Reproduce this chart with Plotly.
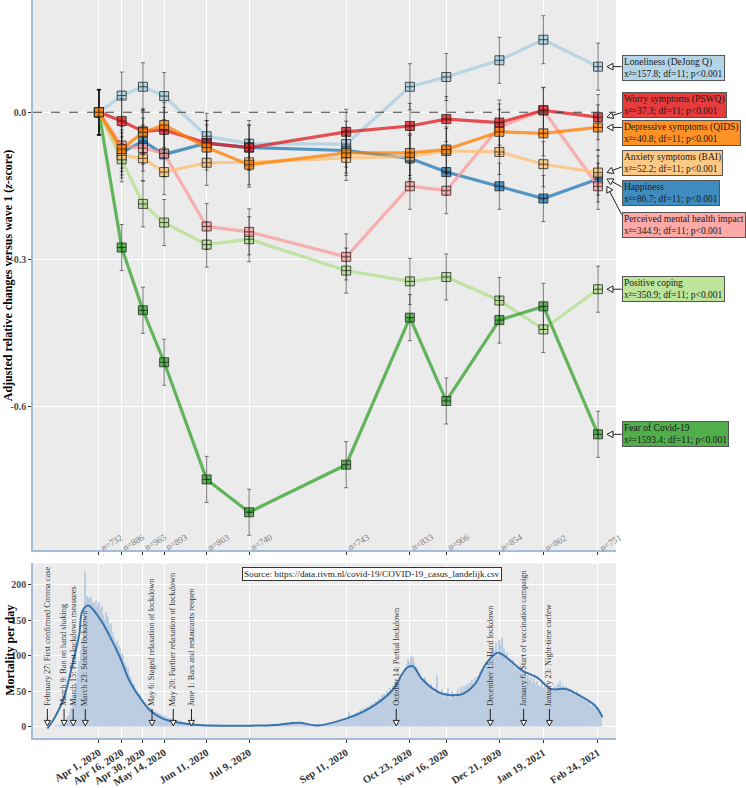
import math
import pandas as pd
import plotly.graph_objects as go

W, H = 746, 788
FONT = "Liberation Serif"

# ---------------- data: top panel ----------------
wave_dates = ['2020-04-01', '2020-04-16', '2020-04-30', '2020-05-14', '2020-06-11', '2020-07-09',
              '2020-09-11', '2020-10-23', '2020-11-16', '2020-12-21', '2021-01-19', '2021-02-24']
wave_tick_labels = ['Apr 1, 2020', 'Apr 16, 2020', 'Apr 30, 2020', 'May 14, 2020', 'Jun 11, 2020',
                    'Jul 9, 2020', 'Sep 11, 2020', 'Oct 23, 2020', 'Nov 16, 2020', 'Dec 21, 2020',
                    'Jan 19, 2021', 'Feb 24, 2021']
wave_n = ['n=732', 'n=886', 'n=965', 'n=893', 'n=803', 'n=740', 'n=743', 'n=833', 'n=906', 'n=854', 'n=802', 'n=751']

loneliness = [0, 0.034, 0.052, 0.033, -0.049, -0.064, -0.065, 0.052, 0.072, 0.106, 0.148, 0.093]
happiness = [0, -0.082, -0.059, -0.086, -0.063, -0.072, -0.078, -0.094, -0.122, -0.151, -0.176, -0.136]
positive_coping = [0, -0.096, -0.187, -0.225, -0.270, -0.259, -0.323, -0.345, -0.336, -0.384, -0.443, -0.361]
fear_covid = [0, -0.276, -0.404, -0.510, -0.749, -0.816, -0.719, -0.419, -0.589, -0.424, -0.396, -0.657]
perceived_impact = [0, -0.068, -0.073, -0.084, -0.233, -0.244, -0.295, -0.151, -0.160, -0.030, 0.004, -0.151]
worry = [0, -0.018, -0.039, -0.036, -0.063, -0.072, -0.040, -0.028, -0.014, -0.021, 0.004, -0.010]
anxiety = [0, -0.088, -0.094, -0.122, -0.103, -0.102, -0.093, -0.090, -0.079, -0.081, -0.106, -0.123]
depressive = [0, -0.075, -0.041, -0.026, -0.072, -0.107, -0.083, -0.083, -0.076, -0.040, -0.043, -0.031]

err_loneliness = [0.047, 0.048, 0.049, 0.048, 0.047, 0.047, 0.047, 0.047, 0.048, 0.047, 0.049, 0.048]
err_happiness = [0.046, 0.046, 0.047, 0.046, 0.046, 0.046, 0.046, 0.047, 0.047, 0.047, 0.047, 0.047]
err_positive_coping = [0.046, 0.046, 0.047, 0.047, 0.046, 0.046, 0.046, 0.047, 0.047, 0.047, 0.047, 0.047]
err_fear_covid = [0.046, 0.047, 0.047, 0.047, 0.047, 0.047, 0.047, 0.047, 0.047, 0.047, 0.047, 0.047]
err_perceived_impact = [0.046, 0.046, 0.047, 0.047, 0.047, 0.047, 0.047, 0.047, 0.047, 0.047, 0.047, 0.047]
err_worry = [0.046, 0.046, 0.046, 0.046, 0.046, 0.046, 0.046, 0.046, 0.046, 0.046, 0.046, 0.046]
err_anxiety = [0.046, 0.046, 0.046, 0.046, 0.046, 0.046, 0.046, 0.046, 0.046, 0.046, 0.046, 0.046]
err_depressive = [0.046, 0.046, 0.046, 0.046, 0.046, 0.046, 0.046, 0.046, 0.046, 0.046, 0.046, 0.046]

series_names = ['Loneliness (DeJong Q)', 'Happiness', 'Positive coping', 'Fear of Covid-19',
                'Perceived mental health impact', 'Worry symptoms (PSWQ)', 'Anxiety symptoms (BAI)',
                'Depressive symptoms (QIDS)']
series_values = [loneliness, happiness, positive_coping, fear_covid, perceived_impact, worry, anxiety, depressive]
series_errors = [err_loneliness, err_happiness, err_positive_coping, err_fear_covid, err_perceived_impact,
                 err_worry, err_anxiety, err_depressive]
series_colors = ['#a6cee3', '#1f78b4', '#b2df8a', '#33a02c', '#fb9a99', '#e31a1c', '#fdbf6f', '#ff7f00']
series_chi2 = ['157.8', '86.7', '350.9', '1593.4', '344.9', '37.3', '52.2', '40.8']

# label box layout (pixel centres) and arrow attach points (None = horizontal)
label_box_y = [68, 194.7, 290.8, 437.2, 226.8, 106, 164.5, 134]
label_attach_y = [None, 188, None, None, 216, 113.3, 168, None]

# ---------------- data: bottom panel ----------------
deaths_start = '2020-03-01'
deaths_mar = [0, 0, 0, 1, 1, 2, 3, 4, 6, 8, 11, 15, 20, 26, 40, 50, 62, 76, 92, 108, 125, 150, 219, 184, 182,
              181, 183, 176, 174, 178, 170]
deaths_apr = [176, 166, 170, 158, 150, 162, 155, 143, 146, 134, 126, 118, 121, 114, 110, 103, 99, 90, 86, 83,
              74, 70, 62, 60, 51, 49, 44, 45, 39, 36]
deaths_may = [34, 30, 28, 26, 27, 24, 23, 21, 20, 18, 19, 17, 16, 15, 14, 12, 12, 11, 11, 10, 9, 9, 8, 7, 8, 6,
              6, 5, 5, 5, 4]
deaths_jun = [4, 4, 3, 3, 3, 3, 2, 3, 2, 2, 2, 2, 2, 1, 2, 1, 1, 2, 1, 1, 1, 1, 1, 1, 1, 1, 1, 1, 1, 1]
deaths_jul = [1, 1, 1, 0, 1, 1, 1, 1, 0, 1, 1, 1, 1, 0, 1, 1, 1, 1, 1, 1, 1, 1, 1, 1, 2, 1, 2, 2, 2, 3, 3]
deaths_aug = [3, 4, 5, 6, 6, 7, 7, 6, 6, 5, 5, 5, 4, 4, 4, 3, 3, 3, 2, 2, 2, 2, 2, 2, 2, 2, 3, 3, 3, 3, 4]
deaths_sep = [4, 3, 5, 4, 6, 5, 7, 6, 8, 9, 10, 12, 20, 11, 14, 17, 18, 20, 16, 22, 24, 22, 26, 25, 28, 24, 30,
              32, 30, 34]
deaths_oct = [36, 35, 40, 38, 44, 46, 42, 50, 48, 55, 52, 58, 62, 60, 66, 70, 74, 68, 78, 82, 88, 96, 92, 99, 98,
              90, 84, 82, 76, 72, 68]
deaths_nov = [64, 70, 62, 58, 55, 60, 52, 48, 56, 72, 50, 46, 52, 44, 40, 48, 55, 42, 38, 50, 45, 40, 48, 52, 44,
              56, 50, 58, 55, 60]
deaths_dec = [58, 62, 66, 60, 70, 64, 72, 78, 74, 82, 80, 88, 84, 92, 98, 105, 112, 108, 118, 100, 122, 115, 125,
              110, 98, 104, 92, 96, 88, 94, 84]
deaths_jan = [80, 86, 78, 82, 74, 70, 76, 68, 72, 66, 70, 62, 68, 60, 64, 58, 56, 62, 54, 58, 52, 50, 56, 48, 54,
              50, 58, 52, 60, 64, 56]
deaths_feb = [58, 52, 56, 50, 54, 46, 52, 48, 44, 50, 42, 46, 40, 38, 42, 36, 34, 38, 30, 28, 32, 26, 24, 22, 20, 16]

smooth_dates = ['2020-02-27', '2020-03-03', '2020-03-09', '2020-03-14', '2020-03-19', '2020-03-21', '2020-03-25',
                '2020-04-02', '2020-04-08', '2020-04-15', '2020-04-21', '2020-04-28', '2020-05-05', '2020-05-13',
                '2020-05-24', '2020-06-08', '2020-07-09', '2020-07-26', '2020-08-11', '2020-08-23', '2020-09-11',
                '2020-09-26', '2020-10-11', '2020-10-21', '2020-10-25', '2020-10-31', '2020-11-11', '2020-11-19',
                '2020-11-27', '2020-12-05', '2020-12-12', '2020-12-20', '2021-01-05', '2021-01-15', '2021-01-24',
                '2021-02-03', '2021-02-08', '2021-02-22', '2021-02-27']
smooth_values = [-3, 13, 41, 83, 130, 163, 171, 151, 128, 97, 65, 41, 22, 11, 5, 1.5, 1, 2, 5, 1.4, 11, 25, 50, 83,
                 85, 67, 48, 44, 46, 60, 88, 104, 79, 69, 53, 53, 48, 29.5, 13]

event_dates = ['2020-02-27', '2020-03-09', '2020-03-15', '2020-03-23', '2020-05-06', '2020-05-20', '2020-06-01',
               '2020-10-14', '2020-12-15', '2021-01-06', '2021-01-23']
event_labels = ['February 27: First confirmed Corona case', 'March 9: Ban on hand shaking',
                'March 15: First lockdown measures', 'March 23: Stricter lockdown',
                'May 6: Staged relaxation of lockdown', 'May 20: Further relaxation of lockdown',
                'June 1: Bars and restaurants reopen', 'October 14: Partial lockdown',
                'December 15: Hard lockdown', 'January 6: Start of vaccination campaign',
                'January 23: Night-time curfew']
source_text = 'Source: https://data.rivm.nl/covid-19/COVID-19_casus_landelijk.csv'

# ---------------- geometry ----------------
PX_L, PX_R = 33, 616
TOP_T, TOP_B = 0, 554
BOT_T, BOT_B = 567, 742.7
XR = ['2020-02-17 12:30', '2021-03-07 21:00']
Y1R = [-0.894, 0.229]
Y2R = [-16.4, 230.5]
T0, T1 = pd.Timestamp(XR[0]), pd.Timestamp(XR[1])


def xpx(d):
    return PX_L + (pd.Timestamp(d) - T0) / (T1 - T0) * (PX_R - PX_L)


def y1px(v):
    return TOP_T + (Y1R[1] - v) / (Y1R[1] - Y1R[0]) * (TOP_B - TOP_T)


def xp(px):
    return px / W


def yp(py):
    return 1 - py / H


def rgba(hexc, a):
    h = hexc.lstrip('#')
    return 'rgba(%d,%d,%d,%.2f)' % (int(h[0:2], 16), int(h[2:4], 16), int(h[4:6], 16), a)


fig = go.Figure()

# ---------------- top panel traces ----------------
for name, vals, errs, col in zip(series_names, series_values, series_errors, series_colors):
    fig.add_trace(go.Scatter(
        x=wave_dates, y=vals, mode='lines+markers', name=name, showlegend=False,
        line=dict(color=rgba(col, 0.75), width=3.2),
        marker=dict(symbol='square-cross', size=9, color=rgba(col, 0.75),
                    line=dict(color='rgba(30,30,30,0.75)', width=1)),
        error_y=dict(type='data', array=errs, color='rgba(20,20,20,0.55)', thickness=1, width=2),
        xaxis='x', yaxis='y', cliponaxis=False))

# ---------------- bottom panel traces ----------------
deaths = (deaths_mar + deaths_apr + deaths_may + deaths_jun + deaths_jul + deaths_aug + deaths_sep +
          deaths_oct + deaths_nov + deaths_dec + deaths_jan + deaths_feb)
death_dates = pd.date_range(deaths_start, periods=len(deaths), freq='D')
fig.add_trace(go.Bar(x=death_dates, y=deaths, marker=dict(color='#bccde1', line=dict(width=0)),
                     showlegend=False, xaxis='x2', yaxis='y2'))
fig.add_trace(go.Scatter(x=smooth_dates, y=smooth_values, mode='lines', showlegend=False,
                         line=dict(color='#3a74ad', width=2, shape='spline', smoothing=0.9),
                         xaxis='x2', yaxis='y2'))

shapes = []
annotations = []

# zero dashed line
shapes.append(dict(type='line', xref='paper', yref='y', x0=xp(PX_L), x1=xp(PX_R), y0=0, y1=0,
                   line=dict(color='#444444', width=1, dash='dash'), layer='above'))


def arrow(tip, tail, length=6, half=3.3, color='#222222'):
    tx, ty = tip
    ax, ay = tail
    dx, dy = ax - tx, ay - ty
    n = math.hypot(dx, dy)
    ux, uy = dx / n, dy / n
    bx, by = tx + length * ux, ty + length * uy
    px_, py_ = -uy, ux
    c1 = (bx + half * px_, by + half * py_)
    c2 = (bx - half * px_, by - half * py_)
    tri = 'M %.5f %.5f L %.5f %.5f L %.5f %.5f Z' % (xp(tx), yp(ty), xp(c1[0]), yp(c1[1]), xp(c2[0]), yp(c2[1]))
    shapes.append(dict(type='path', xref='paper', yref='paper', path=tri, fillcolor='white',
                       line=dict(color=color, width=1), layer='above'))
    shapes.append(dict(type='line', xref='paper', yref='paper', x0=xp(bx), y0=yp(by), x1=xp(ax), y1=yp(ay),
                       line=dict(color=color, width=1), layer='above'))


# label boxes with arrows
BOX_X = 621.7
for name, vals, col, chi, by, ay in zip(series_names, series_values, series_colors, series_chi2,
                                        label_box_y, label_attach_y):
    tipx = xpx(wave_dates[-1]) + 9
    tipy = y1px(vals[-1])
    tail = (BOX_X, tipy if ay is None else ay)
    arrow((tipx, tipy), tail)
    annotations.append(dict(
        xref='paper', yref='paper', x=xp(BOX_X), y=yp(by), xanchor='left', yanchor='middle',
        text='%s<br>x\u00b2=%s; df=11; p&lt;0.001' % (name, chi), showarrow=False, align='left',
        font=dict(family=FONT, size=9.5, color='#1a1a1a'), bgcolor=rgba(col, 0.85),
        bordercolor='#555555', borderwidth=1, borderpad=1))

# n labels
for d, t in zip(wave_dates, wave_n):
    annotations.append(dict(xref='x', yref='paper', x=d, y=yp(559), xanchor='left', yanchor='bottom',
                            xshift=-3, text=t, showarrow=False, textangle=-30,
                            font=dict(family=FONT, size=9, color='#7a7a7a')))

# event arrows and labels (bottom panel)
for d, t in zip(event_dates, event_labels):
    ex = xpx(d)
    arrow((ex, 730.5), (ex, 713.5), length=5.5, half=3)
    annotations.append(dict(xref='x2', yref='paper', x=d, y=yp(712.5), xanchor='center', yanchor='bottom',
                            text=t, showarrow=False, textangle=-90,
                            font=dict(family=FONT, size=8.3, color='#333333')))

# source box
annotations.append(dict(xref='paper', yref='paper', x=xp(372), y=yp(578), xanchor='center', yanchor='middle',
                        text=source_text, showarrow=False, font=dict(family=FONT, size=9.2, color='#1a1a1a'),
                        bgcolor='white', bordercolor='#333333', borderwidth=1, borderpad=1))

# axis titles
annotations.append(dict(xref='paper', yref='paper', x=xp(8), y=yp(277), xanchor='center', yanchor='middle',
                        text='<b>Adjusted relative changes versus wave 1 (<i>z</i>-score)</b>', showarrow=False,
                        textangle=-90, font=dict(family=FONT, size=12, color='black')))
annotations.append(dict(xref='paper', yref='paper', x=xp(10), y=yp(655), xanchor='center', yanchor='middle',
                        text='<b>Mortality per day</b>', showarrow=False,
                        textangle=-90, font=dict(family=FONT, size=12, color='black')))

AXLINE = '#a3bdd6'
common_x = dict(type='date', range=XR, tickmode='array', tickvals=wave_dates, showgrid=True,
                gridcolor='white', gridwidth=1, zeroline=False, showline=True, linecolor=AXLINE,
                linewidth=1.5, ticks='outside', ticklen=3, tickcolor='#333333',
                domain=[xp(PX_L), xp(PX_R)])

fig.update_layout(
    width=W, height=H, margin=dict(l=0, r=0, t=0, b=0),
    paper_bgcolor='white', plot_bgcolor='#ebebeb', bargap=0.12,
    font=dict(family=FONT),
    xaxis=dict(common_x, anchor='y', showticklabels=False),
    xaxis2=dict(common_x, anchor='y2', ticktext=wave_tick_labels, tickangle=-32,
                tickfont=dict(family=FONT, size=10.5, color='#333333', weight='bold')),
    yaxis=dict(domain=[yp(TOP_B), yp(TOP_T)], range=Y1R, tickmode='array', tickvals=[0, -0.3, -0.6],
               ticktext=['0.0', '-0.3', '-0.6'], showgrid=True, gridcolor='white', gridwidth=1,
               zeroline=False, showline=True, linecolor=AXLINE, linewidth=1.5, ticks='outside',
               ticklen=3, tickcolor='#333333', anchor='x',
               tickfont=dict(family=FONT, size=10, color='#4d4d4d', weight='bold')),
    yaxis2=dict(domain=[yp(BOT_B), yp(BOT_T)], range=Y2R, tickmode='array', tickvals=[0, 50, 100, 150, 200],
                showgrid=True, gridcolor='white', gridwidth=1, zeroline=False, showline=True,
                linecolor=AXLINE, linewidth=1.5, ticks='outside', ticklen=3, tickcolor='#333333',
                anchor='x2', tickfont=dict(family=FONT, size=10, color='#4d4d4d', weight='bold')),
    shapes=shapes, annotations=annotations,
)

fig.write_html('out.html', config={'displayModeBar': False},
               post_script="document.body.style.margin='0';document.body.style.overflow='hidden';")
